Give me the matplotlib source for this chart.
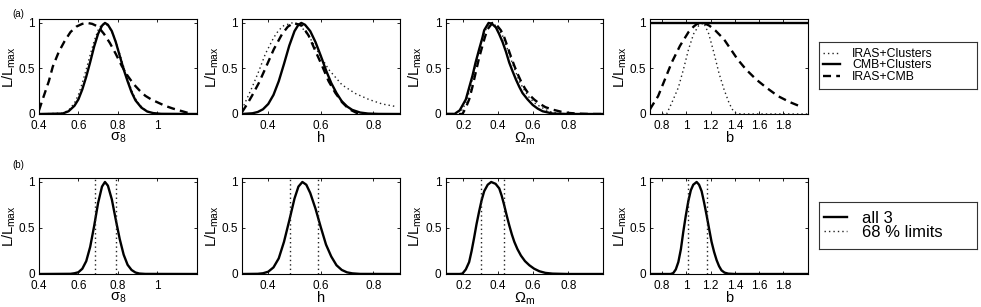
import matplotlib
matplotlib.use("Agg")
import matplotlib.pyplot as plt
from matplotlib.lines import Line2D

plt.rcParams['font.family'] = ['Liberation Sans', 'DejaVu Sans']
plt.rcParams['mathtext.default'] = 'regular'

# ---------------- data ----------------
# Row (a): sigma_8
s8_sol_x = [0.40,0.52,0.55,0.58,0.60,0.62,0.64,0.66,0.68,0.70,0.72,0.735,0.75,0.77,0.79,0.81,0.83,0.85,0.87,0.89,0.92,0.95,0.98,1.02,1.20]
s8_sol_y = [0,0.005,0.03,0.09,0.16,0.27,0.41,0.57,0.74,0.88,0.97,1.0,0.98,0.91,0.79,0.64,0.49,0.36,0.24,0.15,0.07,0.027,0.01,0.002,0]
s8_dot_x = [0.40,0.52,0.55,0.58,0.60,0.62,0.64,0.66,0.68,0.70,0.72,0.74,0.76,0.78,0.80,0.82,0.84,0.86,0.88,0.90,0.93,0.96,1.00,1.20]
s8_dot_y = [0,0.01,0.04,0.12,0.21,0.34,0.49,0.65,0.80,0.92,0.99,0.99,0.94,0.86,0.73,0.59,0.45,0.32,0.21,0.13,0.06,0.02,0.004,0]
s8_das_x = [0.40,0.42,0.45,0.47,0.50,0.53,0.56,0.59,0.62,0.645,0.67,0.70,0.73,0.76,0.79,0.82,0.85,0.88,0.91,0.94,0.97,1.00,1.04,1.08,1.12,1.16,1.18]
s8_das_y = [0.04,0.17,0.36,0.52,0.68,0.80,0.90,0.96,0.99,1.0,0.99,0.96,0.88,0.78,0.66,0.53,0.42,0.33,0.26,0.20,0.16,0.13,0.09,0.06,0.035,0.01,0.0]

# Row (a): h
h_sol_x = [0.30,0.34,0.36,0.38,0.40,0.42,0.44,0.46,0.48,0.50,0.515,0.526,0.54,0.56,0.58,0.60,0.62,0.64,0.66,0.68,0.70,0.72,0.75,0.78,0.82,0.90]
h_sol_y = [0,0.008,0.022,0.052,0.11,0.21,0.36,0.55,0.75,0.91,0.98,1.0,0.98,0.91,0.79,0.64,0.48,0.34,0.23,0.14,0.083,0.045,0.016,0.005,0.001,0]
h_das_x = [0.30,0.32,0.338,0.364,0.389,0.421,0.453,0.475,0.497,0.529,0.554,0.58,0.605,0.63,0.656,0.681,0.707,0.738,0.76]
h_das_y = [0.02,0.11,0.20,0.34,0.50,0.71,0.88,0.96,1.0,0.97,0.86,0.69,0.53,0.36,0.23,0.13,0.055,0.01,0.0]
h_dot_x = [0.30,0.338,0.364,0.389,0.421,0.44,0.459,0.49,0.522,0.554,0.592,0.63,0.681,0.732,0.783,0.834,0.89]
h_dot_y = [0.05,0.29,0.47,0.66,0.84,0.92,0.97,1.0,0.97,0.86,0.67,0.49,0.32,0.225,0.16,0.11,0.08]

# Row (a): Omega_m
om_sol_x = [0.10,0.15,0.18,0.215,0.253,0.27,0.291,0.31,0.32,0.345,0.365,0.387,0.405,0.425,0.445,0.463,0.482,0.501,0.52,0.539,0.568,0.597,0.625,0.654,0.711,0.80,1.0]
om_sol_y = [0,0,0.04,0.16,0.42,0.56,0.71,0.84,0.92,1.0,0.99,0.95,0.88,0.79,0.68,0.565,0.47,0.38,0.30,0.23,0.16,0.10,0.06,0.03,0.005,0,0]
om_das_x = [0.10,0.196,0.215,0.234,0.253,0.272,0.29,0.31,0.325,0.339,0.367,0.39,0.415,0.435,0.453,0.472,0.492,0.51,0.53,0.553,0.578,0.605,0.635,0.67,0.711,0.76,0.807,0.86,0.92,1.0]
om_das_y = [0,0,0.07,0.16,0.30,0.46,0.61,0.75,0.85,0.93,1.0,0.98,0.92,0.84,0.74,0.635,0.53,0.445,0.36,0.28,0.21,0.16,0.115,0.075,0.048,0.025,0.011,0.004,0,0]
om_dot_x = [0.10,0.18,0.215,0.24,0.262,0.28,0.30,0.32,0.34,0.358,0.38,0.40,0.425,0.45,0.473,0.497,0.52,0.55,0.578,0.615,0.654,0.69,0.73,0.80,1.0]
om_dot_y = [0,0,0.12,0.28,0.46,0.62,0.77,0.89,0.97,1.0,0.98,0.94,0.86,0.73,0.60,0.48,0.36,0.26,0.18,0.11,0.066,0.03,0.011,0,0]

# Row (a): b
b_sol_x = [0.7,2.0]
b_sol_y = [1.0,1.0]
b_das_x = [0.70,0.706,0.767,0.823,0.879,0.948,1.018,1.06,1.088,1.144,1.19,1.241,1.311,1.367,1.423,1.492,1.576,1.66,1.757,1.855,1.952]
b_das_y = [0.05,0.066,0.196,0.38,0.565,0.75,0.90,0.96,0.99,1.0,0.97,0.915,0.82,0.71,0.60,0.49,0.38,0.29,0.196,0.13,0.077]
b_dot_x = [0.80,0.837,0.879,0.934,0.976,1.018,1.06,1.102,1.144,1.185,1.227,1.269,1.311,1.353,1.38,1.409,1.45,2.0]
b_dot_y = [0,0,0.12,0.29,0.49,0.71,0.88,0.97,1.0,0.88,0.675,0.45,0.27,0.12,0.05,0.01,0,0]

# Row (b): all 3 combined + 68% limits
s8_all_x = [0.40,0.56,0.58,0.60,0.62,0.64,0.66,0.68,0.70,0.72,0.735,0.75,0.77,0.79,0.81,0.83,0.85,0.87,0.89,0.91,0.94,1.20]
s8_all_y = [0,0.002,0.008,0.019,0.057,0.14,0.295,0.52,0.77,0.95,1.0,0.96,0.81,0.59,0.38,0.21,0.10,0.044,0.016,0.005,0.001,0]
s8_lim = [0.685, 0.79]
h_all_x = [0.30,0.36,0.38,0.40,0.42,0.44,0.46,0.48,0.50,0.515,0.53,0.545,0.56,0.58,0.60,0.62,0.64,0.66,0.68,0.70,0.72,0.75,0.90]
h_all_y = [0,0.002,0.008,0.025,0.072,0.17,0.35,0.58,0.82,0.95,1.0,0.97,0.88,0.71,0.51,0.32,0.19,0.095,0.044,0.018,0.007,0.001,0]
h_lim = [0.482, 0.589]
om_all_x = [0.10,0.18,0.196,0.215,0.234,0.248,0.262,0.276,0.291,0.305,0.32,0.34,0.36,0.385,0.406,0.42,0.434,0.448,0.463,0.478,0.492,0.51,0.53,0.553,0.578,0.605,0.635,0.67,0.711,0.80,1.0]
om_all_y = [0,0,0.005,0.05,0.13,0.25,0.39,0.54,0.68,0.80,0.90,0.97,1.0,0.98,0.93,0.85,0.75,0.64,0.53,0.43,0.35,0.27,0.20,0.14,0.095,0.058,0.03,0.012,0.004,0,0]
om_lim = [0.30, 0.435]
b_all_x = [0.70,0.87,0.892,0.913,0.934,0.955,0.975,0.995,1.016,1.037,1.057,1.085,1.105,1.126,1.146,1.167,1.188,1.208,1.229,1.25,1.27,1.29,1.315,1.346,1.40,2.0]
b_all_y = [0,0,0.01,0.05,0.13,0.27,0.46,0.63,0.79,0.91,0.97,1.0,0.97,0.90,0.78,0.64,0.49,0.35,0.24,0.15,0.085,0.04,0.015,0.004,0,0]
b_lim = [1.01, 1.167]

# axes settings
xlabels = ['σ$_8$', 'h', 'Ω$_m$', 'b']
xlims = [(0.4, 1.2), (0.3, 0.9), (0.1, 1.0), (0.7, 2.0)]
xticks = [[0.4, 0.6, 0.8, 1.0], [0.4, 0.6, 0.8], [0.2, 0.4, 0.6, 0.8], [0.8, 1.0, 1.2, 1.4, 1.6, 1.8]]
xticklabels = [['0.4', '0.6', '0.8', '1'], ['0.4', '0.6', '0.8'], ['0.2', '0.4', '0.6', '0.8'],
               ['0.8', '1', '1.2', '1.4', '1.6', '1.8']]
yticks = [0, 0.5, 1]
yticklabels = ['0', '0.5', '1']
legend_top = ['IRAS+Clusters', 'CMB+Clusters', 'IRAS+CMB']
legend_bot = ['all 3', '68 % limits']

top_curves = [
    ((s8_dot_x, s8_dot_y), (s8_sol_x, s8_sol_y), (s8_das_x, s8_das_y)),
    ((h_dot_x, h_dot_y), (h_sol_x, h_sol_y), (h_das_x, h_das_y)),
    ((om_dot_x, om_dot_y), (om_sol_x, om_sol_y), (om_das_x, om_das_y)),
    ((b_dot_x, b_dot_y), (b_sol_x, b_sol_y), (b_das_x, b_das_y)),
]
bot_curves = [(s8_all_x, s8_all_y, s8_lim), (h_all_x, h_all_y, h_lim),
              (om_all_x, om_all_y, om_lim), (b_all_x, b_all_y, b_lim)]

# styles
DOT = dict(color='#222222', lw=1.0, linestyle=(0, (1, 2.2)))
SOL = dict(color='black', lw=1.7, linestyle='-')
DAS = dict(color='black', lw=1.7, linestyle=(0, (3.4, 2.2)))

W, H = 981, 307
fig = plt.figure(figsize=(W / 100, H / 100), dpi=100)

lefts = [39, 242, 445.7, 650]
width = 157.5
top_row = (19.3, 114)
bot_row = (178.3, 274)


def make_ax(xl, row):
    t, b = row
    return fig.add_axes([xl / W, 1 - b / H, width / W, (b - t) / H])


def style(ax, i):
    ax.set_xlim(*xlims[i])
    ax.set_ylim(0, 1.04)
    ax.set_xticks(xticks[i])
    ax.set_xticklabels(xticklabels[i])
    ax.set_yticks(yticks)
    ax.set_yticklabels(yticklabels)
    ax.tick_params(direction='in', top=True, right=True, length=2.5, width=0.6,
                   labelsize=8.5)
    ax.tick_params(axis='x', pad=4.5)
    ax.tick_params(axis='y', pad=3)
    for sp in ax.spines.values():
        sp.set_linewidth(0.8)
    ax.set_xlabel(xlabels[i], fontsize=10.5, labelpad=-1)
    ax.set_ylabel('L/L$_{max}$', fontsize=10.5, labelpad=0.5)


for i in range(4):
    ax = make_ax(lefts[i], top_row)
    (dx, dy), (sx, sy), (ex, ey) = top_curves[i]
    ax.plot(dx, dy, **DOT)
    ax.plot(sx, sy, **SOL)
    ax.plot(ex, ey, **DAS)
    style(ax, i)

for i in range(4):
    ax = make_ax(lefts[i], bot_row)
    x, y, lim = bot_curves[i]
    ax.plot(x, y, **SOL)
    for v in lim:
        ax.axvline(v, **DOT)
    style(ax, i)

# legends (boxes drawn as empty axes frames)
lg1 = fig.add_axes([819 / W, 1 - 89 / H, 158 / W, 47 / H])
lg1.set_xticks([]); lg1.set_yticks([])
for sp in lg1.spines.values():
    sp.set_linewidth(0.8); sp.set_color('#333333')
h1 = [Line2D([], [], **DOT), Line2D([], [], **SOL), Line2D([], [], **DAS)]
lg1.legend(h1, legend_top, loc='center left', bbox_to_anchor=(0, 0.5), frameon=False,
           fontsize=8.8, handlelength=1.4, handletextpad=1.0, labelspacing=-0.05,
           borderpad=0.3, borderaxespad=0)

lg2 = fig.add_axes([819 / W, 1 - 249 / H, 158 / W, 47 / H])
lg2.set_xticks([]); lg2.set_yticks([])
for sp in lg2.spines.values():
    sp.set_linewidth(0.8); sp.set_color('#333333')
h2 = [Line2D([], [], **SOL), Line2D([], [], **DOT)]
lg2.legend(h2, legend_bot, loc='center left', bbox_to_anchor=(0, 0.5), frameon=False,
           fontsize=12, handlelength=1.4, handletextpad=0.9, labelspacing=-0.1,
           borderpad=0.3, borderaxespad=0)

fig.text(12 / W, 1 - 14 / H, '(a)', fontsize=7, va='center', ha='left')
fig.text(12 / W, 1 - 165 / H, '(b)', fontsize=7, va='center', ha='left')

fig.savefig('out.png', dpi=100)
